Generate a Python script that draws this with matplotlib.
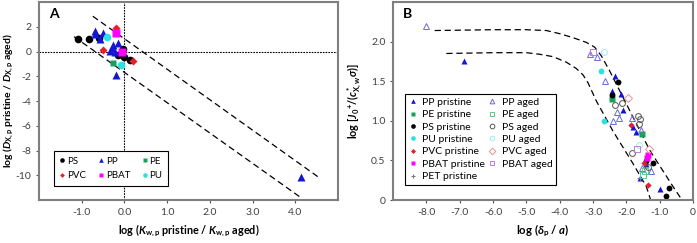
import matplotlib
matplotlib.use("Agg")
import matplotlib.pyplot as plt

plt.rcParams['font.family'] = ['Lato', 'DejaVu Sans']
plt.rcParams['axes.unicode_minus'] = False
plt.rcParams['mathtext.fontset'] = 'custom'
plt.rcParams['mathtext.rm'] = 'Lato:bold'
plt.rcParams['mathtext.it'] = 'Lato:bold:italic'
plt.rcParams['mathtext.bf'] = 'Lato:bold'

# ---- panel A data: log(Kw,p pristine/aged) vs log(DX,p pristine/aged)
a_ps_x = [-1.09, -0.82, -0.60, -0.16, -0.04, -0.02, 0.13]
a_ps_y = [1.04, 1.04, 1.12, -0.27, 0.19, -0.48, -0.69]
a_pp_x = [-0.70, -0.68, -0.51, -0.57, -0.16, -0.26, -0.29, -0.34, -0.22, -0.20, 4.13]
a_pp_y = [1.62, 1.40, 1.49, 0.99, 0.69, 0.50, 0.32, 0.05, -0.08, -1.87, -10.16]
a_pe_x = [-0.26]
a_pe_y = [-0.96]
a_pvc_x = [-0.20, -0.51, 0.20]
a_pvc_y = [1.92, 0.13, -0.75]
a_pbat_x = [-0.20, -0.05]
a_pbat_y = [1.47, 0.0]
a_pu_x = [-0.40, -0.09]
a_pu_y = [1.15, -1.09]

a_upper_x = [-0.74, 4.59]
a_upper_y = [2.85, -10.27]
a_lower_x = [-1.18, 4.10]
a_lower_y = [1.20, -11.73]

a_xticks = [-1, 0, 1, 2, 3, 4]
a_xticklabels = ['-1.0', '0.0', '1.0', '2.0', '3.0', '4.0']
a_yticks = [-10, -8, -6, -4, -2, 0, 2]

# ---- panel B data: log(delta_p/a) vs log[J0+/(c*X,w sigma)]
b_pp_pristine_x = [-6.86, -2.34, -2.44, -2.16, -2.09, -1.80, -1.70, -1.40, -1.59, -0.98]
b_pp_pristine_y = [1.76, 1.57, 1.38, 1.34, 1.14, 0.92, 0.86, 0.45, 0.28, 0.14]
b_pe_pristine_x = [-2.43, -1.53]
b_pe_pristine_y = [1.28, 0.83]
b_ps_pristine_x = [-2.26, -2.43, -1.41, -1.21, -0.73, -0.80]
b_ps_pristine_y = [1.49, 1.32, 0.49, 0.47, 0.15, 0.05]
b_pu_pristine_x = [-2.76, -2.67]
b_pu_pristine_y = [1.625, 1.0]
b_pvc_pristine_x = [-1.85, -1.46, -1.34]
b_pvc_pristine_y = [0.95, 0.47, 0.19]
b_pbat_pristine_x = [-1.36, -1.39]
b_pbat_pristine_y = [0.57, 0.53]
b_pet_pristine_x = [-1.60]
b_pet_pristine_y = [0.28]

b_pp_aged_x = [-8.01, -3.09, -2.89, -2.63, -2.27, -2.21, -2.39, -1.84, -1.55, -1.54, -1.25]
b_pp_aged_y = [2.20, 1.84, 1.80, 1.50, 1.11, 1.04, 1.00, 1.04, 0.88, 0.41, 0.36]
b_pe_aged_x = [-1.44, -1.50]
b_pe_aged_y = [0.36, 0.31]
b_ps_aged_x = [-2.12, -2.34, -1.65, -1.60, -1.62, -1.84, -1.35]
b_ps_aged_y = [1.23, 1.20, 1.06, 1.02, 0.96, 0.59, 0.42]
b_pu_aged_x = [-2.67, -1.62]
b_pu_aged_y = [1.875, 0.70]
b_pvc_aged_x = [-1.94, -1.32]
b_pvc_aged_y = [1.29, 0.65]
b_pbat_aged_x = [-2.99, -1.67]
b_pbat_aged_y = [1.875, 0.65]

b_upper_x = [-7.75, -6.0, -5.0, -4.4, -4.0, -3.6, -3.2, -2.95, -2.75, -2.5, -1.9, -1.3, -0.6, -0.33]
b_upper_y = [2.14, 2.15, 2.15, 2.14, 2.10, 2.05, 1.99, 1.93, 1.82, 1.63, 1.13, 0.63, 0.17, 0.0]
b_lower_x = [-7.4, -6.0, -5.0, -4.6, -4.2, -3.8, -3.5, -3.3, -3.15, -2.9, -2.4, -1.8, -1.4, -1.27]
b_lower_y = [1.85, 1.86, 1.86, 1.84, 1.81, 1.74, 1.66, 1.58, 1.48, 1.25, 0.87, 0.46, 0.17, 0.0]

b_xticks = [-8, -7, -6, -5, -4, -3, -2, -1, 0]
b_xticklabels = ['-8.0', '-7.0', '-6.0', '-5.0', '-4.0', '-3.0', '-2.0', '-1.0', '0']
b_yticks = [0, 0.5, 1.0, 1.5, 2.0]
b_yticklabels = ['0', '0.5', '1.0', '1.5', '2.0']

PP_C = '#1515d8'
PE_C = '#17a05a'
PS_C = 'black'
PU_C = '#2fe0e0'
PVC_C = '#e5202a'
PBAT_C = '#ff00ff'


def style_axes(ax):
    for s in ax.spines.values():
        s.set_color('#7f7f7f')
        s.set_linewidth(1.5)
    ax.tick_params(direction='out', length=2.5, width=0.8, color='#555555',
                   labelsize=7.5, labelcolor='#404040', pad=3)


fig = plt.figure(figsize=(6.97, 2.43), dpi=100)

# ---------------- panel A
axA = fig.add_axes([39 / 697, 43 / 243, 299 / 697, 198 / 243])
style_axes(axA)
axA.axhline(0, color='black', lw=0.8, ls=(0, (1.5, 1)), zorder=1)
axA.axvline(0, color='black', lw=0.8, ls=(0, (1.5, 1)), zorder=1)
axA.plot(a_upper_x, a_upper_y, color='black', lw=0.9, ls=(0, (5, 3)), zorder=1)
axA.plot(a_lower_x, a_lower_y, color='black', lw=0.9, ls=(0, (5, 3)), zorder=1)

kw = dict(ls='none', mec='none', zorder=3)
hA = {}
hA['PS'] = axA.plot(a_ps_x, a_ps_y, 'o', color=PS_C, ms=5.5, **kw)[0]
hA['PP'] = axA.plot(a_pp_x, a_pp_y, '^', color=PP_C, ms=5.5, **kw)[0]
hA['PE'] = axA.plot(a_pe_x, a_pe_y, 's', color=PE_C, ms=5, **kw)[0]
hA['PVC'] = axA.plot(a_pvc_x, a_pvc_y, 'D', color=PVC_C, ms=4, **kw)[0]
hA['PBAT'] = axA.plot(a_pbat_x, a_pbat_y, 's', color=PBAT_C, ms=5.5, **kw)[0]
hA['PU'] = axA.plot(a_pu_x, a_pu_y, 'o', color=PU_C, ms=5.5, **kw)[0]

axA.set_xlim(-2, 5)
axA.set_ylim(-12, 4)
axA.set_xticks(a_xticks)
axA.set_xticklabels(a_xticklabels)
axA.set_yticks(a_yticks)
axA.set_xlabel(r"log ($K_{\rm w,p}$ pristine / $K_{\rm w,p}$ aged)",
               fontsize=7.8, fontweight='bold', labelpad=4)
axA.set_ylabel(r"log ($D_{\rm X,p}$ pristine / $D_{\rm X,p}$ aged)",
               fontsize=7.5, fontweight='bold')
axA.yaxis.set_label_coords(-0.078, 0.5)
axA.text(0.034, 0.94, 'A', transform=axA.transAxes, fontsize=10,
         fontweight='bold', va='center', ha='left')

order = ['PS', 'PVC', 'PP', 'PBAT', 'PE', 'PU']
legA = axA.legend([hA[k] for k in order], order, ncol=3, loc='lower left',
                  bbox_to_anchor=(0.033, 0.045), fontsize=7, markerscale=0.6,
                  handlelength=0.6, handletextpad=0.2, columnspacing=1.2,
                  borderpad=0.6, labelspacing=0.6, fancybox=False,
                  framealpha=1, edgecolor='black')
legA.get_frame().set_linewidth(0.8)

# ---------------- panel B
axB = fig.add_axes([393 / 697, 43 / 243, 300 / 697, 198 / 243])
style_axes(axB)
axB.plot(b_upper_x, b_upper_y, color='black', lw=0.9, ls=(0, (5, 3)), zorder=1)
axB.plot(b_lower_x, b_lower_y, color='black', lw=0.9, ls=(0, (5, 3)), zorder=1)

ms = 4.2
oc = dict(ls='none', mfc='none', mew=0.7, ms=ms, zorder=3)
hB = []
hB.append(axB.plot(b_pp_pristine_x, b_pp_pristine_y, '^', color=PP_C, ms=ms, ls='none', mec='none', label='PP pristine')[0])
hB.append(axB.plot(b_pe_pristine_x, b_pe_pristine_y, 's', color=PE_C, ms=ms, ls='none', mec='none', label='PE pristine')[0])
hB.append(axB.plot(b_ps_pristine_x, b_ps_pristine_y, 'o', color=PS_C, ms=ms, ls='none', mec='none', label='PS pristine')[0])
hB.append(axB.plot(b_pu_pristine_x, b_pu_pristine_y, 'o', color=PU_C, ms=ms, ls='none', mec='none', label='PU pristine')[0])
hB.append(axB.plot(b_pvc_pristine_x, b_pvc_pristine_y, 'D', color=PVC_C, ms=3.2, ls='none', mec='none', label='PVC pristine')[0])
hB.append(axB.plot(b_pbat_pristine_x, b_pbat_pristine_y, 's', color=PBAT_C, ms=ms, ls='none', mec='none', label='PBAT pristine')[0])
hB.append(axB.plot(b_pet_pristine_x, b_pet_pristine_y, '+', color='#777777', ms=ms, mew=0.8, ls='none', label='PET pristine')[0])
hB.append(axB.plot(b_pp_aged_x, b_pp_aged_y, '^', mec='#6a6ae0', label='PP aged', **oc)[0])
hB.append(axB.plot(b_pe_aged_x, b_pe_aged_y, 's', mec='#5cc88a', label='PE aged', **oc)[0])
hB.append(axB.plot(b_ps_aged_x, b_ps_aged_y, 'o', mec='#555555', label='PS aged', **oc)[0])
hB.append(axB.plot(b_pu_aged_x, b_pu_aged_y, 'o', mec='#9aeeee', label='PU aged', **oc)[0])
hB.append(axB.plot(b_pvc_aged_x, b_pvc_aged_y, 'D', mec='#ee9090', label='PVC aged', **oc)[0])
hB.append(axB.plot(b_pbat_aged_x, b_pbat_aged_y, 's', mec='#c07ae0', label='PBAT aged', **oc)[0])

axB.set_xlim(-9, 0)
axB.set_ylim(0, 2.5)
axB.set_xticks(b_xticks)
axB.set_xticklabels(b_xticklabels)
axB.set_yticks(b_yticks)
axB.set_yticklabels(b_yticklabels)
axB.set_xlabel(r"log ($\delta_{\rm p}$ / $a$)", fontsize=8.2, fontweight='bold', labelpad=4)
axB.set_ylabel(r"log [$J_0{}^{+}$/($c^{*}_{\rm X,w}\sigma$)]",
               fontsize=7.8, fontweight='bold', labelpad=5)
axB.text(0.034, 0.94, 'B', transform=axB.transAxes, fontsize=10,
         fontweight='bold', va='center', ha='left')

legB = axB.legend(handles=hB, ncol=2, loc='lower left', bbox_to_anchor=(0.023, 0.05),
                  fontsize=7.5, markerscale=0.8, handlelength=0.8, handletextpad=0.5,
                  columnspacing=0.3, borderpad=0.35, labelspacing=0.3,
                  fancybox=False, framealpha=1, edgecolor='black')
legB.get_frame().set_linewidth(0.8)

fig.savefig('out.png', dpi=100)
